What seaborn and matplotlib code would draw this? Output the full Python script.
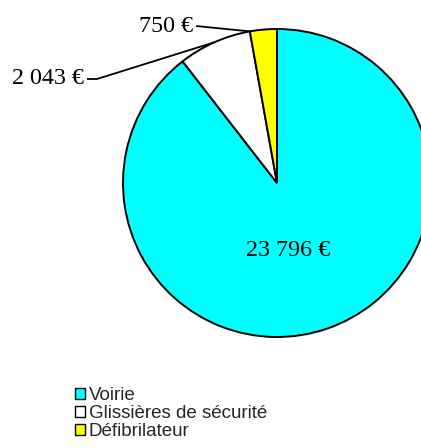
import numpy as np
import matplotlib
matplotlib.use("Agg")
import matplotlib.pyplot as plt
import seaborn as sns
from matplotlib.patches import Patch

categories = ["Voirie", "Glissières de sécurité", "Défibrilateur"]
values = [23796, 2043, 750]
colors = ["#00FFFF", "#FFFFFF", "#FFFF00"]

def fmt(v):
    return f"{v:,}".replace(",", " ") + " €"

sns.set_theme(style="white")
plt.rcParams["font.family"] = ["Liberation Serif", "DejaVu Serif"]

W, H = 421, 448
fig = plt.figure(figsize=(W / 100, H / 100), dpi=100)
ax = fig.add_axes([0, 0, 1, 1])

cx, cy, R = 277, H - 183, 154
wedges, _ = ax.pie(values, colors=colors, startangle=90, counterclock=False,
                   center=(cx, cy), radius=R,
                   wedgeprops=dict(edgecolor="black", linewidth=1.4))
ax.set_xlim(0, W)
ax.set_ylim(0, H)
ax.set_aspect("equal")
ax.axis("off")

# angles of each wedge
total = sum(values)
fr = np.array(values) / total
ends = 90 - 360 * np.cumsum(fr)
starts = ends + 360 * fr
mids = (starts + ends) / 2

def on_arc(theta):
    t = np.deg2rad(theta)
    return cx + R * np.cos(t), cy + R * np.sin(t)

lab_font = dict(fontsize=17.3, family=["Liberation Serif", "DejaVu Serif"], color="black")

# big slice label
ax.text(cx + 11, cy - 67, fmt(values[0]), ha="center", va="center", **lab_font)

# Glissières label
ax.text(84, H - 78, fmt(values[1]), ha="right", va="center", **lab_font)
ex, ey = on_arc(mids[1])
ax.plot([87, 97, ex], [H - 79, H - 79, ey], color="black", lw=1.3, solid_capstyle="butt")

# Défibrilateur label
ax.text(193, H - 26, fmt(values[2]), ha="right", va="center", **lab_font)
ex2, ey2 = on_arc(starts[2])
ax.plot([196, ex2], [H - 26, ey2], color="black", lw=1.3, solid_capstyle="butt")

handles = [Patch(facecolor=c, edgecolor="black", linewidth=1.0) for c in colors]
leg = fig.legend(handles, categories, loc="upper left",
                 bbox_to_anchor=(75 / W, 1 - 387 / H),
                 frameon=False, borderpad=0, borderaxespad=0,
                 handlelength=0.53, handleheight=0.53, handletextpad=0.2,
                 labelspacing=0.05,
                 prop=dict(family=["Liberation Sans", "DejaVu Sans"], size=13.5))

fig.savefig("out.png", dpi=100)
